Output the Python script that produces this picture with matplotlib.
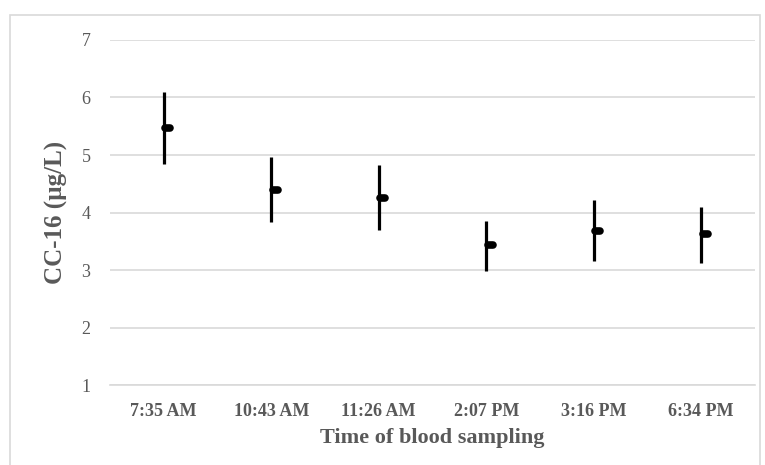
import matplotlib
matplotlib.use("Agg")
import matplotlib.pyplot as plt
from matplotlib.patches import Rectangle

# Data (high / low / close per sampling time)
times = ["7:35 AM", "10:43 AM", "11:26 AM", "2:07 PM", "3:16 PM", "6:34 PM"]
high = [6.10, 4.97, 4.83, 3.86, 4.21, 4.09]
low = [4.84, 3.83, 3.69, 2.99, 3.16, 3.13]
close = [5.47, 4.39, 4.25, 3.43, 3.68, 3.63]

TEXT = "#595959"
GRID = "#d9d9d9"
plt.rcParams["font.family"] = ["Liberation Serif", "DejaVu Serif"]

fig = plt.figure(figsize=(7.65, 4.65), dpi=100)
ax = fig.add_axes([0.1438, 0.172, 0.843, 0.742])

# outer chart border
fig.patches.append(Rectangle((10 / 765, -0.01), 750 / 765, 1 - 15 / 465 + 0.01,
                             transform=fig.transFigure, fill=False,
                             edgecolor=GRID, linewidth=1.2))

x = list(range(len(times)))
ax.vlines(x, low, high, color="black", linewidth=2.3, zorder=3)
# close tick to the right of each line
for xi, c in zip(x, close):
    ax.plot([xi + 0.015, xi + 0.06], [c, c], color="black", linewidth=5.5,
            solid_capstyle="round", zorder=4)

ax.set_xlim(-0.5, len(times) - 0.5)
ax.set_ylim(1, 7)
ax.set_yticks(range(1, 8))
ax.yaxis.grid(True, color=GRID, linewidth=1.2)
ax.set_axisbelow(True)
for s in ax.spines.values():
    s.set_visible(False)
ax.spines["bottom"].set_visible(True)
ax.spines["bottom"].set_color(GRID)
ax.spines["bottom"].set_linewidth(1.2)

ax.set_xticks(x)
ax.set_xticklabels(times, fontsize=13, fontweight="bold", color=TEXT)
ax.tick_params(axis="both", length=0)
ax.tick_params(axis="x", pad=13)
ax.tick_params(axis="y", pad=14, labelsize=13, labelcolor=TEXT)

ax.set_xlabel("Time of blood sampling", fontsize=16, fontweight="bold",
              color=TEXT, labelpad=6)
ax.set_ylabel("CC-16 (µg/L)", fontsize=18, fontweight="bold",
              color=TEXT, labelpad=10)

fig.savefig("out.png", dpi=100)
